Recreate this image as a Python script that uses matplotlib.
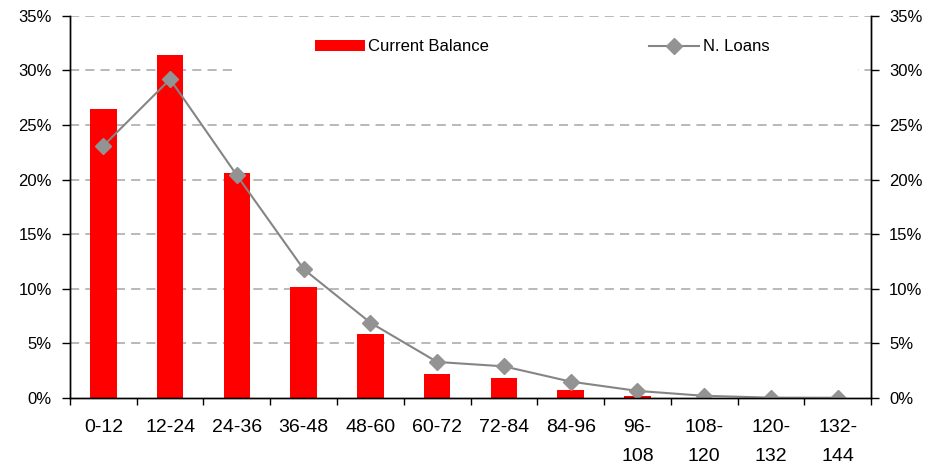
import matplotlib
matplotlib.use("Agg")
import matplotlib.pyplot as plt
from matplotlib.patches import Rectangle
from matplotlib.ticker import FuncFormatter, FixedLocator
import numpy as np

# Seasoning buckets (months) and distribution shares (%)
categories = ["0-12", "12-24", "24-36", "36-48", "48-60", "60-72", "72-84",
              "84-96", "96-\n108", "108-\n120", "120-\n132", "132-\n144"]
current_balance = [26.5, 31.4, 20.6, 10.2, 5.9, 2.2, 1.8, 0.75, 0.15, 0.0, 0.0, 0.0]
n_loans = [23.1, 29.2, 20.4, 11.8, 6.9, 3.3, 2.9, 1.5, 0.65, 0.2, 0.03, 0.02]
y_ticks = [0, 5, 10, 15, 20, 25, 30, 35]

plt.rcParams["font.family"] = ["Liberation Sans", "DejaVu Sans"]

fig = plt.figure(figsize=(9.38, 4.68), dpi=100)
ax = fig.add_axes([0.0746, 0.1496, 0.854, 0.8164])

x = np.arange(len(categories))
bars = ax.bar(x, current_balance, width=0.40, color="#ff0000", zorder=2,
              label="Current Balance")
line, = ax.plot(x, n_loans, color="#858585", lw=1.5, marker="D", markersize=8.5,
                markerfacecolor="#939393", markeredgecolor="#939393", zorder=3,
                label="N. Loans")

ax.set_xlim(-0.5, len(categories) - 0.5)
ax.set_ylim(0, 35)

# Dashed horizontal grid
ax.set_axisbelow(True)
for v in y_ticks[1:]:
    ax.axhline(v, color="#a6a6a6", lw=1.1, ls=(0, (6, 4)), zorder=0.5)

# White backing behind the legend
ax.add_patch(Rectangle((0.202, 0.85), 0.782, 0.12, transform=ax.transAxes,
                       facecolor="white", edgecolor="none", zorder=1))

pct = FuncFormatter(lambda v, p: f"{v:.0f}%")
ax.yaxis.set_major_locator(FixedLocator(y_ticks))
ax.yaxis.set_major_formatter(pct)
ax.tick_params(axis="y", direction="out", length=6, width=1, pad=7,
               labelsize=12, colors="black")

ax.set_xticks(x)
ax.set_xticklabels(categories, fontsize=14, linespacing=1.95)
ax.set_xticks(np.arange(len(categories) + 1) - 0.5, minor=True)
ax.tick_params(axis="x", which="major", length=0, pad=15)
ax.tick_params(axis="x", which="minor", length=5, width=1, direction="out")

ax2 = ax.twinx()
ax2.set_ylim(0, 35)
ax2.yaxis.set_major_locator(FixedLocator(y_ticks))
ax2.yaxis.set_major_formatter(pct)
ax2.tick_params(axis="y", direction="out", length=6, width=1, pad=7,
                labelsize=12, colors="black")

for a in (ax, ax2):
    a.spines["top"].set_visible(False)
    for s in ("left", "right", "bottom"):
        a.spines[s].set_color("black")
        a.spines[s].set_linewidth(1)

ax.legend(handles=[bars, line], loc="center left",
          bbox_to_anchor=(0.306, 0.919), ncol=2, frameon=False, fontsize=12,
          handlelength=3.0, handletextpad=0.2, columnspacing=9.6,
          borderpad=0, borderaxespad=0)

fig.savefig("out.png", dpi=100, facecolor="white")
